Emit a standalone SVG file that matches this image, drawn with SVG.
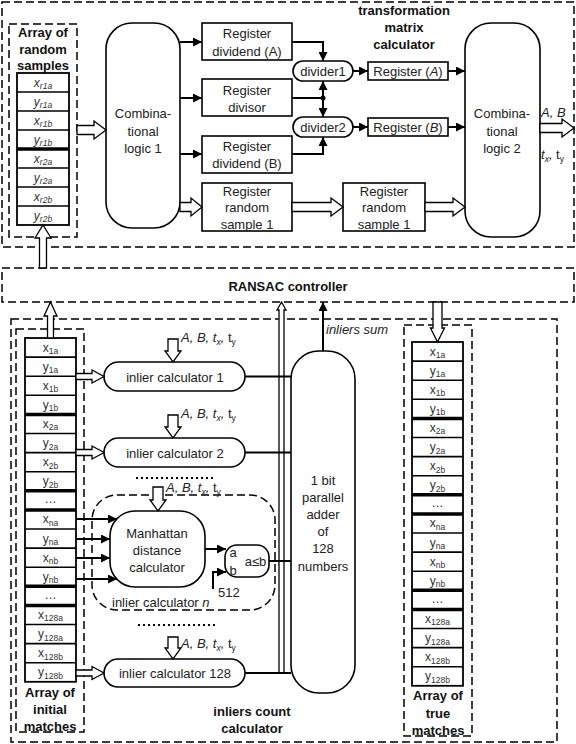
<svg xmlns="http://www.w3.org/2000/svg" width="576" height="744" viewBox="0 0 576 744">
<defs>
<marker id="ah" viewBox="0 0 10 10" refX="10" refY="5" markerWidth="10" markerHeight="9" markerUnits="userSpaceOnUse" orient="auto"><path d="M0,0 L10,5 L0,10 z" fill="#000"/></marker>
<style>
.box{fill:#fff;stroke:#000;stroke-width:1.6}
.dash{fill:none;stroke:#000;stroke-width:1.5;stroke-dasharray:8 4}
.hol{fill:#fff;stroke:#000;stroke-width:1.3}
.ln{fill:none;stroke:#000;stroke-width:2}
.cell{fill:#fff;stroke:#000;stroke-width:1.8}
.thk{stroke:#000;stroke-width:3.5}
.sep{stroke:#000;stroke-width:1.6}
.t{font-family:"Liberation Sans",Arial,sans-serif;font-size:13px;fill:#222;text-anchor:middle}
.b{font-weight:bold;fill:#111}
.l{text-anchor:start}
.i{font-style:italic}
.c{font-family:"Liberation Sans",Arial,sans-serif;font-size:12px;fill:#333;text-anchor:middle}
.s{font-size:8.5px}
.dots{fill:none;stroke:#000;stroke-width:2;stroke-dasharray:2 3}
</style>
</defs>

<!-- containers -->
<g id="transformation-matrix-calculator">
<rect class="dash" x="2" y="2" width="572" height="245"/>
<text class="t b" x="404" y="15">transformation</text>
<text class="t b" x="404" y="32">matrix</text>
<text class="t b" x="404" y="49">calculator</text>
</g>

<g id="ransac-controller">
<rect class="dash" x="2" y="268" width="572" height="34"/>
<text class="t b" x="288" y="291">RANSAC controller</text>
</g>

<g id="inliers-count-calculator">
<rect class="dash" x="11" y="319" width="546" height="423"/>
<text class="t b" x="252" y="716">inliers count</text>
<text class="t b" x="252" y="733">calculator</text>
</g>

<!-- array of random samples -->
<g id="array-random-samples">
<rect class="dash" x="9" y="24" width="68" height="213"/>
<text class="t b" x="43" y="37">Array of</text>
<text class="t b" x="43" y="54">random</text>
<text class="t b" x="43" y="70">samples</text>
<rect class="cell" x="17" y="73" width="52" height="152"/>
<line class="sep" x1="17" y1="92" x2="69" y2="92"/>
<line class="sep" x1="17" y1="111" x2="69" y2="111"/>
<line class="sep" x1="17" y1="130" x2="69" y2="130"/>
<line class="thk" x1="17" y1="149" x2="69" y2="149"/>
<line class="sep" x1="17" y1="168" x2="69" y2="168"/>
<line class="sep" x1="17" y1="187" x2="69" y2="187"/>
<line class="sep" x1="17" y1="206" x2="69" y2="206"/>
<text class="c i" x="43" y="86.5">x<tspan class="s" dy="2.5">r1a</tspan></text>
<text class="c i" x="43" y="105.5">y<tspan class="s" dy="2.5">r1a</tspan></text>
<text class="c i" x="43" y="124.5">x<tspan class="s" dy="2.5">r1b</tspan></text>
<text class="c i" x="43" y="143.5">y<tspan class="s" dy="2.5">r1b</tspan></text>
<text class="c i" x="43" y="162.5">x<tspan class="s" dy="2.5">r2a</tspan></text>
<text class="c i" x="43" y="181.5">y<tspan class="s" dy="2.5">r2a</tspan></text>
<text class="c i" x="43" y="200.5">x<tspan class="s" dy="2.5">r2b</tspan></text>
<text class="c i" x="43" y="219.5">y<tspan class="s" dy="2.5">r2b</tspan></text>
</g>

<g id="comb-logic-1">
<rect class="box" x="106" y="23" width="74" height="205" rx="26"/>
<text class="t" x="143" y="118">Combina-</text>
<text class="t" x="143" y="136">tional</text>
<text class="t" x="143" y="153">logic 1</text>
</g>

<g id="reg-dividend-a">
<rect class="box" x="202" y="23" width="90" height="37"/>
<text class="t" x="247" y="38">Register</text>
<text class="t" x="247" y="55.5">dividend (A)</text>
</g>
<g id="reg-divisor">
<rect class="box" x="202" y="79" width="90" height="37"/>
<text class="t" x="247" y="95">Register</text>
<text class="t" x="247" y="112">divisor</text>
</g>
<g id="reg-dividend-b">
<rect class="box" x="202" y="136" width="90" height="37"/>
<text class="t" x="247" y="151">Register</text>
<text class="t" x="247" y="168">dividend (B)</text>
</g>
<g id="reg-random-sample-1">
<rect class="box" x="202" y="183" width="90" height="48"/>
<text class="t" x="247" y="196">Register</text>
<text class="t" x="247" y="212">random</text>
<text class="t" x="247" y="229">sample 1</text>
</g>
<g id="reg-random-sample-1b">
<rect class="box" x="343" y="183" width="82" height="48"/>
<text class="t" x="384" y="196">Register</text>
<text class="t" x="384" y="212">random</text>
<text class="t" x="384" y="229">sample 1</text>
</g>

<g id="divider1">
<rect class="box" x="293" y="61" width="60" height="20" rx="10"/>
<text class="t" x="323" y="76">divider1</text>
</g>
<g id="divider2">
<rect class="box" x="293" y="117" width="60" height="20" rx="10"/>
<text class="t" x="323" y="132">divider2</text>
</g>

<g id="reg-a">
<rect class="box" x="368" y="62" width="80" height="18"/>
<text class="t" x="408" y="75.5">Register (<tspan class="i">A</tspan>)</text>
</g>
<g id="reg-b">
<rect class="box" x="368" y="118" width="80" height="18"/>
<text class="t" x="408" y="131.5">Register (<tspan class="i">B</tspan>)</text>
</g>

<g id="comb-logic-2">
<rect class="box" x="465" y="23" width="75" height="214" rx="26"/>
<text class="t" x="502" y="118">Combina-</text>
<text class="t" x="502" y="136">tional</text>
<text class="t" x="502" y="153">logic 2</text>
</g>

<!-- array of initial matches -->
<g id="array-initial-matches">
<rect class="dash" x="16" y="329" width="68" height="403"/>
<rect class="cell" x="25" y="338" width="51" height="343.8"/>
<line class="sep" x1="25" y1="357.1" x2="76" y2="357.1"/>
<line class="sep" x1="25" y1="376.2" x2="76" y2="376.2"/>
<line class="sep" x1="25" y1="395.3" x2="76" y2="395.3"/>
<line class="thk" x1="25" y1="414.4" x2="76" y2="414.4"/>
<line class="sep" x1="25" y1="433.5" x2="76" y2="433.5"/>
<line class="sep" x1="25" y1="452.6" x2="76" y2="452.6"/>
<line class="sep" x1="25" y1="471.7" x2="76" y2="471.7"/>
<line class="thk" x1="25" y1="490.8" x2="76" y2="490.8"/>
<line class="thk" x1="25" y1="509.9" x2="76" y2="509.9"/>
<line class="sep" x1="25" y1="529" x2="76" y2="529"/>
<line class="sep" x1="25" y1="548.1" x2="76" y2="548.1"/>
<line class="sep" x1="25" y1="567.2" x2="76" y2="567.2"/>
<line class="thk" x1="25" y1="586.3" x2="76" y2="586.3"/>
<line class="thk" x1="25" y1="605.4" x2="76" y2="605.4"/>
<line class="sep" x1="25" y1="624.5" x2="76" y2="624.5"/>
<line class="sep" x1="25" y1="643.6" x2="76" y2="643.6"/>
<line class="sep" x1="25" y1="662.7" x2="76" y2="662.7"/>
<text class="c" x="50.5" y="351.5">x<tspan class="s" dy="2.5">1a</tspan></text>
<text class="c" x="50.5" y="370.6">y<tspan class="s" dy="2.5">1a</tspan></text>
<text class="c" x="50.5" y="389.7">x<tspan class="s" dy="2.5">1b</tspan></text>
<text class="c" x="50.5" y="408.8">y<tspan class="s" dy="2.5">1b</tspan></text>
<text class="c" x="50.5" y="427.9">x<tspan class="s" dy="2.5">2a</tspan></text>
<text class="c" x="50.5" y="447">y<tspan class="s" dy="2.5">2a</tspan></text>
<text class="c" x="50.5" y="466.1">x<tspan class="s" dy="2.5">2b</tspan></text>
<text class="c" x="50.5" y="485.2">y<tspan class="s" dy="2.5">2b</tspan></text>
<text class="c" x="50.5" y="503.3">…</text>
<text class="c" x="50.5" y="523.4">x<tspan class="s" dy="2.5">na</tspan></text>
<text class="c" x="50.5" y="542.5">y<tspan class="s" dy="2.5">na</tspan></text>
<text class="c" x="50.5" y="561.6">x<tspan class="s" dy="2.5">nb</tspan></text>
<text class="c" x="50.5" y="580.7">y<tspan class="s" dy="2.5">nb</tspan></text>
<text class="c" x="50.5" y="598.8">…</text>
<text class="c" x="50.5" y="618.9">x<tspan class="s" dy="2.5">128a</tspan></text>
<text class="c" x="50.5" y="638">y<tspan class="s" dy="2.5">128a</tspan></text>
<text class="c" x="50.5" y="657.1">x<tspan class="s" dy="2.5">128b</tspan></text>
<text class="c" x="50.5" y="676.2">y<tspan class="s" dy="2.5">128b</tspan></text>
<text class="t b" x="50" y="697">Array of</text>
<text class="t b" x="50" y="714">initial</text>
<text class="t b" x="50" y="730.5">matches</text>
</g>

<!-- array of true matches -->
<g id="array-true-matches">
<rect class="dash" x="404" y="325" width="68" height="411"/>
<rect class="cell" x="412" y="342" width="51" height="343.8"/>
<line class="sep" x1="412" y1="361.1" x2="463" y2="361.1"/>
<line class="sep" x1="412" y1="380.2" x2="463" y2="380.2"/>
<line class="sep" x1="412" y1="399.3" x2="463" y2="399.3"/>
<line class="thk" x1="412" y1="418.4" x2="463" y2="418.4"/>
<line class="sep" x1="412" y1="437.5" x2="463" y2="437.5"/>
<line class="sep" x1="412" y1="456.6" x2="463" y2="456.6"/>
<line class="sep" x1="412" y1="475.7" x2="463" y2="475.7"/>
<line class="thk" x1="412" y1="494.8" x2="463" y2="494.8"/>
<line class="thk" x1="412" y1="513.9" x2="463" y2="513.9"/>
<line class="sep" x1="412" y1="533" x2="463" y2="533"/>
<line class="sep" x1="412" y1="552.1" x2="463" y2="552.1"/>
<line class="sep" x1="412" y1="571.2" x2="463" y2="571.2"/>
<line class="thk" x1="412" y1="590.3" x2="463" y2="590.3"/>
<line class="thk" x1="412" y1="609.4" x2="463" y2="609.4"/>
<line class="sep" x1="412" y1="628.5" x2="463" y2="628.5"/>
<line class="sep" x1="412" y1="647.6" x2="463" y2="647.6"/>
<line class="sep" x1="412" y1="666.7" x2="463" y2="666.7"/>
<text class="c" x="437.5" y="355.5">x<tspan class="s" dy="2.5">1a</tspan></text>
<text class="c" x="437.5" y="374.6">y<tspan class="s" dy="2.5">1a</tspan></text>
<text class="c" x="437.5" y="393.7">x<tspan class="s" dy="2.5">1b</tspan></text>
<text class="c" x="437.5" y="412.8">y<tspan class="s" dy="2.5">1b</tspan></text>
<text class="c" x="437.5" y="431.9">x<tspan class="s" dy="2.5">2a</tspan></text>
<text class="c" x="437.5" y="451">y<tspan class="s" dy="2.5">2a</tspan></text>
<text class="c" x="437.5" y="470.1">x<tspan class="s" dy="2.5">2b</tspan></text>
<text class="c" x="437.5" y="489.2">y<tspan class="s" dy="2.5">2b</tspan></text>
<text class="c" x="437.5" y="507.3">…</text>
<text class="c" x="437.5" y="527.4">x<tspan class="s" dy="2.5">na</tspan></text>
<text class="c" x="437.5" y="546.5">y<tspan class="s" dy="2.5">na</tspan></text>
<text class="c" x="437.5" y="565.6">x<tspan class="s" dy="2.5">nb</tspan></text>
<text class="c" x="437.5" y="584.7">y<tspan class="s" dy="2.5">nb</tspan></text>
<text class="c" x="437.5" y="602.8">…</text>
<text class="c" x="437.5" y="622.9">x<tspan class="s" dy="2.5">128a</tspan></text>
<text class="c" x="437.5" y="642">y<tspan class="s" dy="2.5">128a</tspan></text>
<text class="c" x="437.5" y="661.1">x<tspan class="s" dy="2.5">128b</tspan></text>
<text class="c" x="437.5" y="680.2">y<tspan class="s" dy="2.5">128b</tspan></text>
<text class="t b" x="438" y="700">Array of</text>
<text class="t b" x="438" y="717.5">true</text>
<text class="t b" x="438" y="734.5">matches</text>
</g>

<g id="inlier-calculator-1">
<rect class="box" x="104" y="362" width="141" height="29" rx="14.5"/>
<text class="t" x="175" y="381.5">inlier calculator 1</text>
</g>
<g id="inlier-calculator-2">
<rect class="box" x="104" y="438" width="141" height="29" rx="14.5"/>
<text class="t" x="175" y="457.5">inlier calculator 2</text>
</g>
<g id="inlier-calculator-n">
<rect class="dash" x="92" y="495" width="183" height="115" rx="25"/>
<text class="t l" x="112" y="607">inlier calculator <tspan class="i">n</tspan></text>
</g>
<g id="manhattan-distance-calculator">
<rect class="box" x="110" y="511" width="95" height="76" rx="25"/>
<text class="t" x="157" y="538">Manhattan</text>
<text class="t" x="157" y="555">distance</text>
<text class="t" x="157" y="572">calculator</text>
</g>
<g id="comparator">
<rect class="box" x="225" y="545" width="44" height="32" rx="12"/>
<text class="t" x="233" y="557" font-size="11.5">a</text>
<text class="t" x="233" y="575" font-size="11.5">b</text>
<text class="t" x="255.5" y="565.5" font-size="11">a≤b</text>
</g>
<g id="inlier-calculator-128">
<rect class="box" x="104" y="659" width="141" height="28" rx="14"/>
<text class="t" x="175" y="678">inlier calculator 128</text>
</g>
<g id="adder">
<rect class="box" x="291" y="351" width="64" height="342" rx="28"/>
<text class="t" x="323" y="485">1 bit</text>
<text class="t" x="323" y="502">parallel</text>
<text class="t" x="323" y="519">adder</text>
<text class="t" x="323" y="536">of</text>
<text class="t" x="323" y="553">128</text>
<text class="t" x="323" y="571">numbers</text>
</g>

<!-- connectors -->
<g id="connectors">
<polygon class="hol" points="77,125.5 94,125.5 94,121 106,130 94,139 94,134.5 77,134.5"/>
<polygon class="hol" points="180,202.5 191,202.5 191,198 202,207 191,216 191,211.5 180,211.5"/>
<polygon class="hol" points="292,202.5 331,202.5 331,198 343,207 331,216 331,211.5 292,211.5"/>
<polygon class="hol" points="425,202.5 453,202.5 453,198 465,207 453,216 453,211.5 425,211.5"/>
<polygon class="hol" points="540,123.5 562,123.5 562,119 574,128 562,137 562,132.5 540,132.5"/>
<polygon class="hol" points="39.5,268 39.5,238 35,238 43,225 51,238 46.5,238 46.5,268"/>
<polygon class="hol" points="47.5,338 47.5,316 44,316 50.5,302 57,316 53.5,316 53.5,338"/>
<polygon class="hol" points="433,302 433,328 430.5,328 437.5,342 444.5,328 442,328 442,302"/>
<polygon class="hol" points="279,673 279,310 277,310 281.5,302 286,310 284,310 284,673"/>
<polygon class="hol" points="76,373.5 92,373.5 92,370 104,376.5 92,383 92,379.5 76,379.5"/>
<polygon class="hol" points="76,449.5 92,449.5 92,446 104,452.5 92,459 92,455.5 76,455.5"/>
<polygon class="hol" points="76,670 92,670 92,666.5 104,673 92,679.5 92,676 76,676"/>
<polygon class="hol" points="168,339 168,351 165,351 173,362 181,351 178,351 178,339"/>
<polygon class="hol" points="168,415 168,427 165,427 173,438 181,427 178,427 178,415"/>
<polygon class="hol" points="153,487 153,500 150,500 158,511 166,500 163,500 163,487"/>
<polygon class="hol" points="168,637 168,648 165,648 173,659 181,648 178,648 178,637"/>

<line class="ln" x1="180" y1="42" x2="202" y2="42" marker-end="url(#ah)"/>
<line class="ln" x1="180" y1="98" x2="202" y2="98" marker-end="url(#ah)"/>
<line class="ln" x1="180" y1="154" x2="202" y2="154" marker-end="url(#ah)"/>
<polyline class="ln" points="292,42 323,42 323,61" marker-end="url(#ah)"/>
<line class="ln" x1="292" y1="98" x2="323" y2="98"/>
<line class="ln" x1="323" y1="98" x2="323" y2="81" marker-end="url(#ah)"/>
<line class="ln" x1="323" y1="98" x2="323" y2="117" marker-end="url(#ah)"/>
<circle cx="323" cy="98" r="2.5" fill="#000"/>
<polyline class="ln" points="292,154 323,154 323,137" marker-end="url(#ah)"/>
<line class="ln" x1="353" y1="71" x2="368" y2="71" marker-end="url(#ah)"/>
<line class="ln" x1="353" y1="127" x2="368" y2="127" marker-end="url(#ah)"/>
<line class="ln" x1="448" y1="71" x2="465" y2="71" marker-end="url(#ah)"/>
<line class="ln" x1="448" y1="127" x2="465" y2="127" marker-end="url(#ah)"/>

<line class="ln" x1="76" y1="519" x2="117" y2="519" marker-end="url(#ah)"/>
<line class="ln" x1="76" y1="539" x2="110" y2="539" marker-end="url(#ah)"/>
<line class="ln" x1="76" y1="558" x2="110" y2="558" marker-end="url(#ah)"/>
<line class="ln" x1="76" y1="579" x2="117" y2="579" marker-end="url(#ah)"/>
<line class="ln" x1="205" y1="549" x2="226" y2="549" marker-end="url(#ah)"/>
<polyline class="ln" points="213,589 213,572 226,572" marker-end="url(#ah)"/>

<line class="ln" x1="245" y1="376.5" x2="291" y2="376.5"/>
<line class="ln" x1="245" y1="452.5" x2="291" y2="452.5"/>
<line class="ln" x1="269" y1="561" x2="291" y2="561"/>
<line class="ln" x1="245" y1="673" x2="291" y2="673"/>
<line class="ln" x1="323" y1="351" x2="323" y2="302" marker-end="url(#ah)"/>

<line class="dots" x1="136" y1="478" x2="215" y2="478"/>
<line class="dots" x1="138" y1="625" x2="217" y2="625"/>
</g>

<g id="labels">
<text class="t l i" x="541" y="117">A, B</text>
<text class="t l" x="541" y="159"><tspan class="i">t</tspan><tspan class="i s" dy="2.5">x</tspan><tspan class="i" dy="-2.5">, </tspan>t<tspan class="s" dy="2.5">y</tspan></text>
<text class="t l" x="181" y="342"><tspan class="i">A, B, t</tspan><tspan class="i s" dy="2.5">x</tspan><tspan class="i" dy="-2.5">, </tspan>t<tspan class="s" dy="2.5">y</tspan></text>
<text class="t l" x="181" y="418"><tspan class="i">A, B, t</tspan><tspan class="i s" dy="2.5">x</tspan><tspan class="i" dy="-2.5">, </tspan>t<tspan class="s" dy="2.5">y</tspan></text>
<text class="t l" x="166" y="492"><tspan class="i">A, B, t</tspan><tspan class="i s" dy="2.5">x</tspan><tspan class="i" dy="-2.5">, </tspan>t<tspan class="s" dy="2.5">y</tspan></text>
<text class="t l" x="181" y="648"><tspan class="i">A, B, t</tspan><tspan class="i s" dy="2.5">x</tspan><tspan class="i" dy="-2.5">, </tspan>t<tspan class="s" dy="2.5">y</tspan></text>
<text class="t l" x="218" y="597">512</text>
<text class="t l i" x="326" y="334">inliers sum</text>
</g>
</svg>
